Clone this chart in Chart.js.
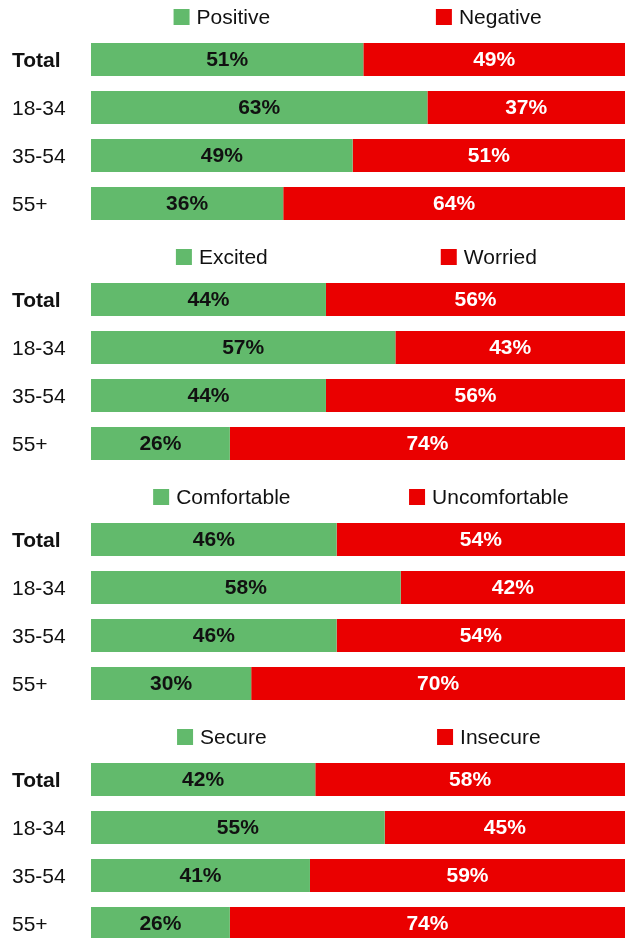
<!DOCTYPE html>
<html>
<head>
<meta charset="utf-8">
<script src="https://cdn.jsdelivr.net/npm/chart.js@4"></script>
<style>
  html, body { margin: 0; padding: 0; background: #fff; width: 625px; height: 938px; overflow: hidden; }
  .panel { position: absolute; left: 0; width: 625px; height: 240px; }
  canvas { display: block; }
</style>
</head>
<body>
<div class="panel" style="top:0px"><canvas id="c0" width="625" height="240"></canvas></div>
<div class="panel" style="top:240px"><canvas id="c1" width="625" height="240"></canvas></div>
<div class="panel" style="top:480px"><canvas id="c2" width="625" height="240"></canvas></div>
<div class="panel" style="top:720px"><canvas id="c3" width="625" height="240"></canvas></div>
<script>
const categories = ['Total', '18-34', '35-54', '55+'];

const legend1 = ['Positive', 'Negative'];
const positive = [51, 63, 49, 36];
const negative = [49, 37, 51, 64];

const legend2 = ['Excited', 'Worried'];
const excited = [44, 57, 44, 26];
const worried = [56, 43, 56, 74];

const legend3 = ['Comfortable', 'Uncomfortable'];
const comfortable = [46, 58, 46, 30];
const uncomfortable = [54, 42, 54, 70];

const legend4 = ['Secure', 'Insecure'];
const secure = [42, 55, 41, 26];
const insecure = [58, 45, 59, 74];

const GREEN = '#62BA6C';
const RED = '#EA0000';
const FONT = '"Liberation Sans", Arial, sans-serif';

const panels = [
  { names: legend1, a: positive, b: negative },
  { names: legend2, a: excited, b: worried },
  { names: legend3, a: comfortable, b: uncomfortable },
  { names: legend4, a: secure, b: insecure }
];

const customLegend = {
  id: 'customLegend',
  afterDraw(chart) {
    const ctx = chart.ctx;
    const area = chart.chartArea;
    ctx.save();
    ctx.font = '21px ' + FONT;
    ctx.textBaseline = 'middle';
    ctx.textAlign = 'left';
    chart.data.datasets.forEach((ds, i) => {
      const cx = area.left + area.width * (0.245 + 0.5 * i);
      const tw = ctx.measureText(ds.label).width;
      const total = 16 + 7 + tw;
      const x0 = cx - total / 2;
      ctx.fillStyle = ds.backgroundColor;
      ctx.fillRect(x0, 9, 16, 16);
      ctx.fillStyle = '#111';
      ctx.fillText(ds.label, x0 + 23, 18);
    });
    ctx.restore();
  }
};

const barLabels = {
  id: 'barLabels',
  afterDatasetsDraw(chart) {
    const ctx = chart.ctx;
    ctx.save();
    ctx.font = 'bold 21px ' + FONT;
    ctx.textAlign = 'center';
    ctx.textBaseline = 'middle';
    chart.data.datasets.forEach((ds, i) => {
      const meta = chart.getDatasetMeta(i);
      meta.data.forEach((el, j) => {
        const v = ds.data[j];
        ctx.fillStyle = ds.labelColor;
        ctx.fillText(v + '%', (el.x + el.base) / 2, el.y + 1);
      });
    });
    ctx.restore();
  }
};

panels.forEach((p, idx) => {
  new Chart(document.getElementById('c' + idx), {
    type: 'bar',
    data: {
      labels: categories,
      datasets: [
        { label: p.names[0], data: p.a, backgroundColor: GREEN, labelColor: '#111', borderWidth: 0 },
        { label: p.names[1], data: p.b, backgroundColor: RED, labelColor: '#fff', borderWidth: 0 }
      ]
    },
    options: {
      indexAxis: 'y',
      responsive: false,
      maintainAspectRatio: false,
      animation: false,
      categoryPercentage: 1,
      barPercentage: 0.6875,
      layout: { padding: { top: 35.5, bottom: 12.5, left: 12, right: 0 } },
      plugins: { legend: { display: false }, tooltip: { enabled: false } },
      scales: {
        x: { stacked: true, min: 0, max: 100, display: false },
        y: {
          stacked: true,
          grid: { display: false },
          border: { display: false },
          afterFit(scale) { scale.width = 79; },
          ticks: {
            crossAlign: 'far',
            padding: 0,
            labelOffset: 2,
            color: '#111',
            font: (c) => ({ family: FONT, size: 21, weight: c.index === 0 ? 'bold' : 'normal' })
          }
        }
      }
    },
    plugins: [customLegend, barLabels]
  });
});
</script>
</body>
</html>
